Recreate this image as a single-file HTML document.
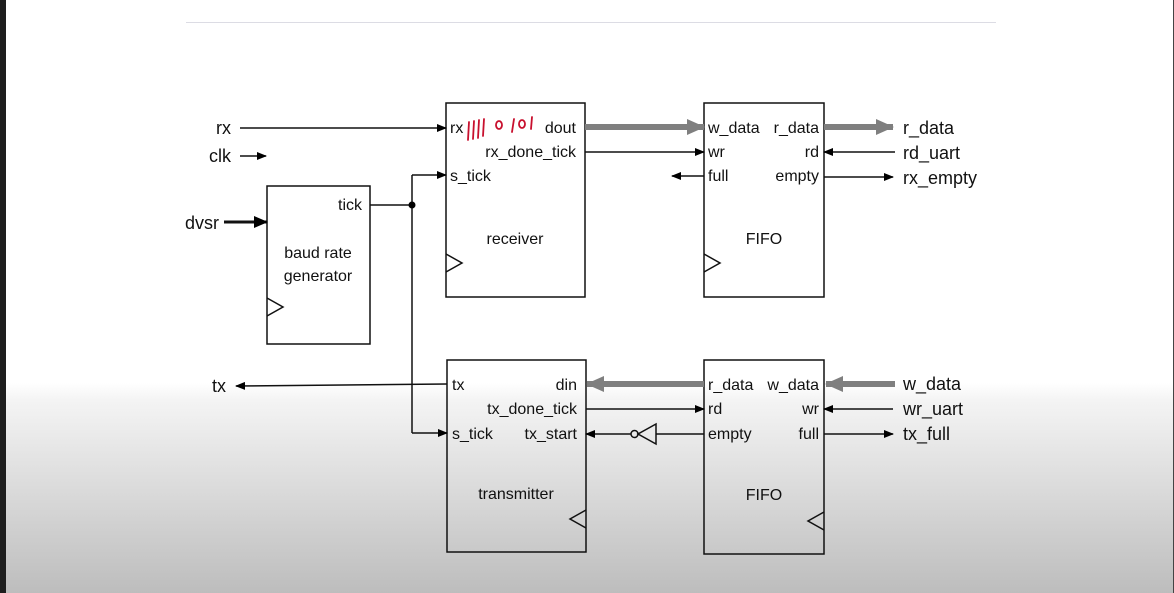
<!DOCTYPE html>
<html><head><meta charset="utf-8"><style>
html,body{margin:0;padding:0;}
body{width:1174px;height:593px;overflow:hidden;position:relative;background:linear-gradient(to bottom,#fff 0,#fff 383px,#f4f4f4 400px,#bdbdbd 593px);font-family:"Liberation Sans",sans-serif;}
.l{position:absolute;left:0;width:6px;top:0;height:593px;background:#1e1e1e;}
svg{position:absolute;left:0;top:0;}
</style></head><body>
<div class="l"></div>
<svg width="1174" height="593" viewBox="0 0 1174 593" font-family="Liberation Sans, sans-serif">
<defs>
<marker id="a" markerWidth="10" markerHeight="8" refX="9" refY="4" orient="auto" markerUnits="userSpaceOnUse"><path d="M0,0L10,4L0,8z" fill="#000"/></marker>
<marker id="g" markerWidth="18" markerHeight="16" refX="17" refY="8" orient="auto" markerUnits="userSpaceOnUse"><path d="M0,0L18,8L0,16z" fill="#7f7f7f"/></marker>
<marker id="b" markerWidth="14" markerHeight="12" refX="13" refY="6" orient="auto" markerUnits="userSpaceOnUse"><path d="M0,0L14,6L0,12z" fill="#000"/></marker>
</defs>
<line x1="186" y1="22.5" x2="996" y2="22.5" stroke="#dcdce4" stroke-width="1"/>
<rect x="1173" y="0" width="1" height="593" fill="#444"/>
<g fill="none" stroke="#111" stroke-width="1.5">
<rect x="267" y="186" width="103" height="158"/>
<rect x="446" y="103" width="139" height="194"/>
<rect x="704" y="103" width="120" height="194"/>
<rect x="447" y="360" width="139" height="192"/>
<rect x="704" y="360" width="120" height="194"/>
<path d="M267,298L283,307L267,316"/>
<path d="M446,254L462,263L446,272"/>
<path d="M704,254L720,263L704,272"/>
<path d="M586,510L570,519L586,528"/>
<path d="M824,512L808,521L824,530"/>
</g>
<g stroke="#111" stroke-width="1.5" fill="none">
<line x1="240" y1="128" x2="446" y2="128" marker-end="url(#a)"/>
<line x1="240" y1="156" x2="266" y2="156" marker-end="url(#a)"/>
<line x1="224" y1="222" x2="267" y2="222" stroke-width="3" marker-end="url(#b)"/>
<path d="M370,205H412"/>
<path d="M412,175V433"/>
<line x1="412" y1="175" x2="446" y2="175" marker-end="url(#a)"/>
<line x1="412" y1="433" x2="447" y2="433" marker-end="url(#a)"/>
<line x1="447" y1="384" x2="236" y2="386" marker-end="url(#a)"/>
<line x1="585" y1="152" x2="704" y2="152" marker-end="url(#a)"/>
<line x1="704" y1="176" x2="672" y2="176" marker-end="url(#a)"/>
<line x1="895" y1="152" x2="824" y2="152" marker-end="url(#a)"/>
<line x1="824" y1="177" x2="893" y2="177" marker-end="url(#a)"/>
<line x1="586" y1="409" x2="704" y2="409" marker-end="url(#a)"/>
<line x1="704" y1="434" x2="656" y2="434"/>
<path d="M656,424L656,444L638,434Z"/>
<circle cx="634.5" cy="434" r="3.5"/>
<line x1="631" y1="434" x2="586" y2="434" marker-end="url(#a)"/>
<line x1="893" y1="409" x2="824" y2="409" marker-end="url(#a)"/>
<line x1="824" y1="434" x2="893" y2="434" marker-end="url(#a)"/>
</g>
<circle cx="412" cy="205" r="3.5" fill="#000"/>
<g stroke="#7f7f7f" stroke-width="6" fill="none">
<line x1="585" y1="127" x2="704" y2="127" marker-end="url(#g)"/>
<line x1="824" y1="127" x2="893" y2="127" marker-end="url(#g)"/>
<line x1="704" y1="384" x2="587" y2="384" marker-end="url(#g)"/>
<line x1="895" y1="384" x2="826" y2="384" marker-end="url(#g)"/>
</g>
<g fill="#111" font-size="18">
<text x="231" y="134" text-anchor="end">rx</text>
<text x="231" y="162" text-anchor="end">clk</text>
<text x="185" y="229">dvsr</text>
<text x="226" y="392" text-anchor="end">tx</text>
<text x="903" y="134">r_data</text>
<text x="903" y="159">rd_uart</text>
<text x="903" y="184">rx_empty</text>
<text x="903" y="390">w_data</text>
<text x="903" y="415">wr_uart</text>
<text x="903" y="440">tx_full</text>
</g>
<g fill="#111" font-size="16">
<text x="362" y="210" text-anchor="end">tick</text>
<text x="318" y="258" text-anchor="middle">baud rate</text>
<text x="318" y="281" text-anchor="middle">generator</text>
<text x="450" y="133">rx</text>
<text x="576" y="133" text-anchor="end">dout</text>
<text x="576" y="157" text-anchor="end">rx_done_tick</text>
<text x="450" y="181">s_tick</text>
<text x="515" y="244" text-anchor="middle">receiver</text>
<text x="708" y="133">w_data</text>
<text x="708" y="157">wr</text>
<text x="708" y="181">full</text>
<text x="819" y="133" text-anchor="end">r_data</text>
<text x="819" y="157" text-anchor="end">rd</text>
<text x="819" y="181" text-anchor="end">empty</text>
<text x="764" y="244" text-anchor="middle">FIFO</text>
<text x="452" y="390">tx</text>
<text x="577" y="390" text-anchor="end">din</text>
<text x="577" y="414" text-anchor="end">tx_done_tick</text>
<text x="452" y="439">s_tick</text>
<text x="577" y="439" text-anchor="end">tx_start</text>
<text x="516" y="499" text-anchor="middle">transmitter</text>
<text x="708" y="390">r_data</text>
<text x="708" y="414">rd</text>
<text x="708" y="439">empty</text>
<text x="819" y="390" text-anchor="end">w_data</text>
<text x="819" y="414" text-anchor="end">wr</text>
<text x="819" y="439" text-anchor="end">full</text>
<text x="764" y="500" text-anchor="middle">FIFO</text>
</g>
<g stroke="#c8102e" stroke-width="1.8" fill="none" stroke-linecap="round">
<path d="M469,122L468,140M474,121L473,139M479,120L478,138M484,119L483,136"/>
<ellipse cx="499" cy="125" rx="3" ry="4"/>
<path d="M514,119L512,132"/>
<ellipse cx="522" cy="124" rx="3" ry="4"/>
<path d="M532,117L531,129"/>
</g>
</svg>
</body></html>
